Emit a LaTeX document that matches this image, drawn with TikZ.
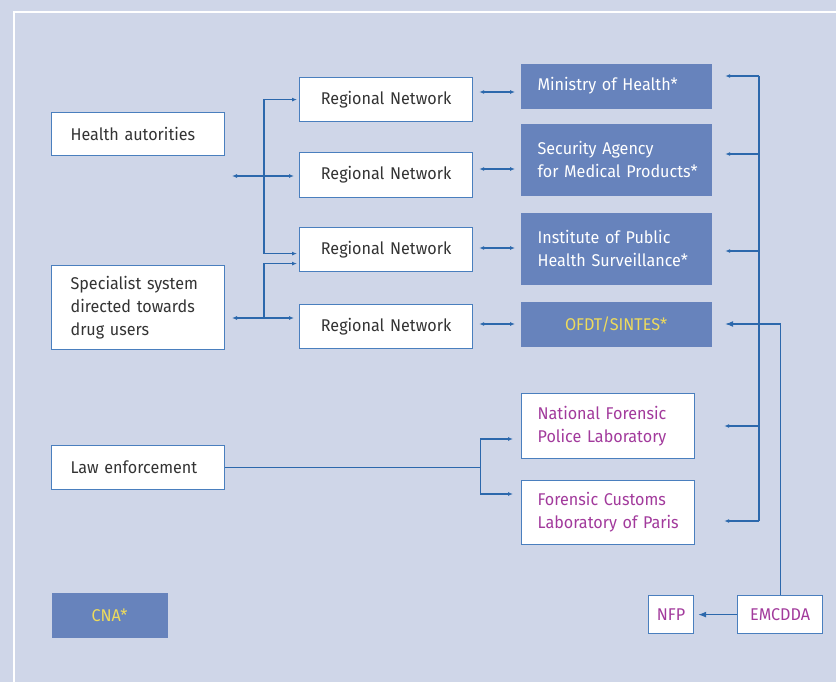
\documentclass[tikz,border=0pt]{standalone}
\usepackage{fontspec}
\setmainfont[FakeStretch=0.95]{Fira Sans}
\usetikzlibrary{arrows.meta}
\definecolor{bgblue}{HTML}{CFD6E8}
\definecolor{boxblue}{HTML}{6783BC}
\definecolor{lineblue}{HTML}{2C68AC}
\definecolor{edgeblue}{HTML}{4A7FBE}
\definecolor{labmagenta}{HTML}{A23A9C}
\definecolor{labyellow}{HTML}{EEDB5C}
\definecolor{txtgrey}{HTML}{333333}
\tikzset{
  box/.style={draw=edgeblue, fill=white, line width=1.2pt, text=txtgrey,
    anchor=north west, inner ysep=0pt, align=left,
    font=\fontsize{17}{23}\selectfont},
  darkbox/.style={box, draw=none, fill=boxblue, text=white},
  labbox/.style={box, text=labmagenta},
  link/.style={draw=lineblue, line width=1.1pt},
  tip/.style={-{Latex[length=5pt,width=4pt]}},
  twoway/.style={{Latex[length=5pt,width=4pt]}-{Latex[length=5pt,width=4pt]}},
  bigtip/.style={-{Latex[length=8pt,width=6pt]}}
}
\begin{document}
\begin{tikzpicture}[x=1pt,y=-1pt]
  \fill[bgblue] (0,0) rectangle (836,682);
  \useasboundingbox (0,0) rectangle (836,682);
  \draw[white,line width=1.2pt] (14,682) -- (14,12) -- (836,12);

  \node[box, inner xsep=19pt, text width=135pt, minimum height=43pt] (health) at (51,112) {Health autorities};
  \node[box, inner xsep=19pt, text width=135pt, minimum height=84pt] (spec) at (51,265) {Specialist system\\directed towards\\drug users};
  \node[box, inner xsep=19pt, text width=135pt, minimum height=44pt] (law) at (51,445) {Law enforcement};
  \node[darkbox, inner xsep=0pt, text width=116pt, minimum height=45pt, align=center, text=labyellow] (cna) at (51,592) {CNA*};

  \node[box, inner xsep=0pt, text width=173pt, minimum height=44pt, align=center] (rn1) at (299,77) {Regional Network};
  \node[box, inner xsep=0pt, text width=173pt, minimum height=45pt, align=center] (rn2) at (299,152) {Regional Network};
  \node[box, inner xsep=0pt, text width=173pt, minimum height=44pt, align=center] (rn3) at (299,227) {Regional Network};
  \node[box, inner xsep=0pt, text width=173pt, minimum height=44pt, align=center] (rn4) at (299,304) {Regional Network};

  \node[darkbox, inner xsep=17pt, text width=157pt, minimum height=45pt] (moh) at (520,63) {\mbox{Ministry of Health*}};
  \node[darkbox, inner xsep=17pt, text width=157pt, minimum height=72pt] (sec) at (520,123) {\mbox{Security Agency}\\\mbox{for Medical Products*}};
  \node[darkbox, inner xsep=17pt, text width=157pt, minimum height=72pt] (inst) at (520,212) {\mbox{Institute of Public}\\\mbox{Health Surveillance*}};
  \node[darkbox, inner xsep=0pt, text width=191pt, minimum height=45pt, align=center, text=labyellow] (ofdt) at (520,301) {OFDT/SINTES*};

  \node[labbox, inner xsep=16pt, text width=141pt, minimum height=65pt] (npl) at (521,393) {\mbox{National Forensic}\\\mbox{Police Laboratory}};
  \node[labbox, inner xsep=16pt, text width=141pt, minimum height=64pt] (fcl) at (521,480) {\mbox{Forensic Customs}\\\mbox{Laboratory of Paris}};

  \node[labbox, inner xsep=0pt, text width=45pt, minimum height=38pt, align=center] (nfp) at (648,595) {NFP};
  \node[labbox, inner xsep=0pt, text width=85pt, minimum height=38pt, align=center] (emc) at (737,595) {EMCDDA};

  \coordinate (hleft) at (232,176);
  \coordinate (hhub) at (264,176);
  \coordinate (sleft) at (232,318);
  \coordinate (shub) at (264,318);
  \path (law.east) -- ++(255,0) coordinate (lsplit);

  \draw[link,twoway,shorten >=5pt] (hleft) -- (rn2.west |- hleft);
  \draw[link,tip,shorten >=2pt] (hhub) |- (rn1.west);
  \draw[link,tip,shorten >=2pt] (hhub) |- ([yshift=-4pt]rn3.west);
  \draw[link,twoway,shorten >=5pt] (sleft) -- (rn4.west |- sleft);
  \draw[link,tip,shorten >=2pt] (shub) |- ([yshift=-14pt]rn3.west);

  \foreach \a/\b/\y in {rn1/moh/92, rn2/sec/169, rn3/inst/248, rn4/ofdt/324}
    \draw[link,twoway,shorten <=6pt,shorten >=5pt] (\a.east |- 0,\y) -- (\b.west |- 0,\y);

  \draw[link] (759,76) -- (759,521);
  \foreach \b/\y/\s in {moh/76/13, sec/154/13, inst/251/13, npl/426/29, fcl/521/29}
    \draw[link,tip,shorten >=\s pt] (759,\y) -- (\b.east |- 0,\y);

  \draw[link,bigtip,shorten >=13pt] (emc.north) |- (ofdt.east |- 0,324);
  \draw[link,bigtip,shorten >=4pt] (emc.west) -- (nfp.east);

  \draw[link] (law.east) -- (lsplit);
  \draw[link,tip,shorten >=8pt] (lsplit) |- (npl.west |- 0,439);
  \draw[link,tip,shorten >=8pt] (lsplit) |- (fcl.west |- 0,494);
\end{tikzpicture}
\end{document}
